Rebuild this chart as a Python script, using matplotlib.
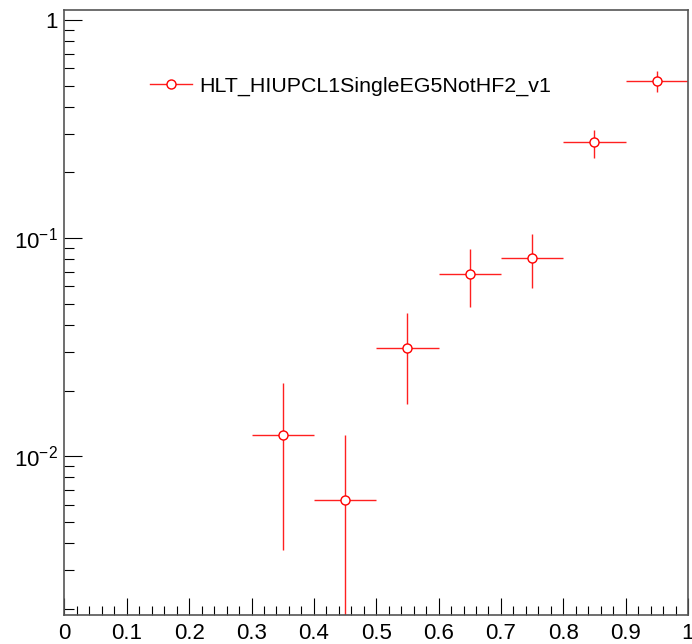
import matplotlib
matplotlib.use("Agg")
import matplotlib.pyplot as plt
from matplotlib.ticker import LogLocator, FixedLocator, NullFormatter, FuncFormatter
from matplotlib.lines import Line2D
import numpy as np

plt.rcParams['font.family'] = ['Liberation Sans', 'DejaVu Sans']
plt.rcParams['mathtext.fontset'] = 'custom'
plt.rcParams['mathtext.rm'] = 'Liberation Sans'
plt.rcParams['mathtext.it'] = 'Liberation Sans'

# Data
x_centers = [0.35, 0.45, 0.55, 0.65, 0.75, 0.85, 0.95]
x_halfwidth = [0.05, 0.05, 0.05, 0.05, 0.05, 0.05, 0.05]
y_values = [0.0125, 0.00628, 0.0313, 0.0684, 0.081, 0.275, 0.525]
y_upper = [0.0216, 0.0125, 0.0453, 0.0891, 0.104, 0.313, 0.583]
y_lower = [0.0037, 0.0001, 0.0173, 0.0482, 0.059, 0.233, 0.468]
series_label = "HLT_HIUPCL1SingleEG5NotHF2_v1"
x_ticks = [0, 0.1, 0.2, 0.3, 0.4, 0.5, 0.6, 0.7, 0.8, 0.9, 1.0]
x_ticklabels = ["0", "0.1", "0.2", "0.3", "0.4", "0.5", "0.6", "0.7", "0.8", "0.9", "1"]

fig = plt.figure(figsize=(6.92, 6.44), dpi=100)
ax = fig.add_axes([0.0932, 0.045, 0.9942 - 0.0932, 0.9837 - 0.045])

y = np.array(y_values)
yerr = np.array([y - np.array(y_lower), np.array(y_upper) - y])
ax.errorbar(x_centers, y_values, xerr=x_halfwidth, yerr=yerr, fmt='o',
            color='#ff0000', ecolor='#ff2020', elinewidth=1.0, capsize=0,
            markersize=6.5, markerfacecolor='white', markeredgecolor='#ff0000',
            markeredgewidth=1.0)

ax.set_yscale('log')
ax.set_xlim(0, 1)
ax.set_ylim(0.00187, 1.105)

ax.xaxis.set_major_locator(FixedLocator(x_ticks))
ax.set_xticklabels(x_ticklabels)
ax.xaxis.set_minor_locator(FixedLocator(np.arange(0, 1.0001, 0.02)))

ax.yaxis.set_major_locator(LogLocator(base=10, numticks=10))
ax.yaxis.set_minor_locator(LogLocator(base=10, subs=np.arange(2, 10), numticks=20))
ax.yaxis.set_minor_formatter(NullFormatter())

def yfmt(v, pos):
    e = int(round(np.log10(v)))
    if e == 0:
        return "1"
    return r"$\mathregular{10^{%d}}$" % e
ax.yaxis.set_major_formatter(FuncFormatter(yfmt))

ax.tick_params(axis='both', which='both', direction='in', top=False, right=False,
               labelsize=16, color='black', width=0.8)
ax.tick_params(axis='x', which='major', length=12.2, pad=6)
ax.tick_params(axis='x', which='minor', length=6.2)
ax.tick_params(axis='y', which='major', length=13, pad=5)
ax.tick_params(axis='y', which='minor', length=7)

for s in ax.spines.values():
    s.set_color('#555555')
    s.set_linewidth(1.2)

handle = Line2D([], [], color='#ff2020', linewidth=1.0, marker='o', markersize=6.5,
                markerfacecolor='white', markeredgecolor='#ff0000', markeredgewidth=1.0)
leg = ax.legend([handle], [series_label], loc='upper left', bbox_to_anchor=(0.124, 0.905),
                frameon=False, fontsize=15.4, handlelength=1.95, handletextpad=0.35,
                borderaxespad=0)

fig.savefig("out.png", dpi=100)
